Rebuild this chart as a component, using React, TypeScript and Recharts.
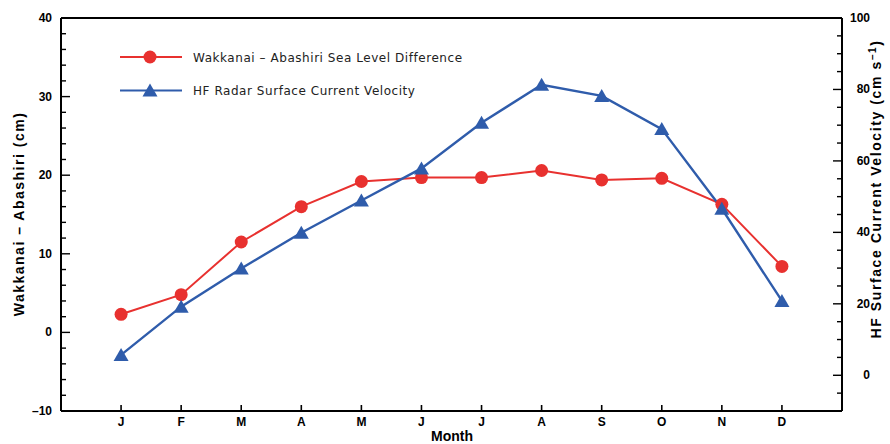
import React from 'react';
import { LineChart, Line, XAxis, YAxis, Legend, ReferenceLine } from 'recharts';

// monthly climatology
const months = [1, 2, 3, 4, 5, 6, 7, 8, 9, 10, 11, 12];
const monthLabels = ['J', 'F', 'M', 'A', 'M', 'J', 'J', 'A', 'S', 'O', 'N', 'D'];
const seaLevelDiff = [2.3, 4.8, 11.5, 16.0, 19.2, 19.7, 19.7, 20.6, 19.4, 19.6, 16.3, 8.4];
const hfVelocity = [5.7, 19.2, 29.9, 39.9, 48.9, 57.9, 70.7, 81.3, 78.2, 68.9, 46.6, 20.8];

const leftTicks = [-10, -8, -6, -4, -2, 0, 2, 4, 6, 8, 10, 12, 14, 16, 18, 20, 22, 24, 26, 28, 30, 32, 34, 36, 38, 40];
const rightTicks = [-10, -5, 0, 5, 10, 15, 20, 25, 30, 35, 40, 45, 50, 55, 60, 65, 70, 75, 80, 85, 90, 95, 100];

const legendOrder = ['sea', 'hf'];

const RED = '#e8312f';
const BLUE = '#2f5cab';
const FONT = '"Liberation Sans", Arial, sans-serif';
const LEGEND_FONT = '"DejaVu Sans", sans-serif';

const data = months.map((m, i) => ({ month: m, sea: seaLevelDiff[i], hf: hfVelocity[i] }));

const fmt = (v: number) => (v < 0 ? `–${Math.abs(v)}` : `${v}`);

const BottomTick = (props: any) => {
  const { x, y, payload } = props;
  return (
    <g>
      <line x1={x} y1={y} x2={x} y2={y - 6} stroke="#000" strokeWidth={1.6} />
      <text x={x} y={y + 15} textAnchor="middle" fontFamily={FONT} fontWeight="bold" fontSize={12} fill="#000">
        {monthLabels[payload.value - 1]}
      </text>
    </g>
  );
};

const LeftTick = (props: any) => {
  const { x, y, payload } = props;
  const major = payload.value % 10 === 0;
  return (
    <g>
      <line x1={x} y1={y} x2={x + (major ? 9 : 5)} y2={y} stroke="#000" strokeWidth={1.4} />
      {major && (
        <text x={x - 9} y={y + 4} textAnchor="end" fontFamily={FONT} fontWeight="bold" fontSize={12} fill="#000">
          {fmt(payload.value)}
        </text>
      )}
    </g>
  );
};

const RightTick = (props: any) => {
  const { x, y, payload } = props;
  const major = payload.value >= 0 && payload.value % 20 === 0;
  return (
    <g>
      <line x1={x} y1={y} x2={x - (major ? 9 : 5)} y2={y} stroke="#000" strokeWidth={1.4} />
      {major && (
        <text x={x + 28} y={y + 4} textAnchor="end" fontFamily={FONT} fontWeight="bold" fontSize={12} fill="#000">
          {payload.value}
        </text>
      )}
    </g>
  );
};

const CircleDot = (props: any) => {
  const { cx, cy, index } = props;
  return <circle key={`c${index}`} cx={cx} cy={cy} r={6.5} fill={RED} stroke="none" />;
};

const TriangleDot = (props: any) => {
  const { cx, cy, index } = props;
  return (
    <path
      key={`t${index}`}
      d={`M${cx},${cy - 7} L${cx + 7.5},${cy + 6} L${cx - 7.5},${cy + 6} Z`}
      fill={BLUE}
      stroke="none"
    />
  );
};

const renderLegend = (props: any) => {
  const items = [...(props.payload || [])].sort(
    (a: any, b: any) => legendOrder.indexOf(a.dataKey) - legendOrder.indexOf(b.dataKey)
  );
  return (
    <svg width={380} height={48}>
      {items.map((it: any, i: number) => {
        const y = 7 + i * 33.5;
        const isSea = it.dataKey === 'sea';
        return (
          <g key={it.value}>
            <line x1={0} y1={y} x2={62} y2={y} stroke={it.color} strokeWidth={2} />
            {isSea ? (
              <circle cx={30} cy={y} r={6.5} fill={it.color} />
            ) : (
              <path d={`M30,${y - 7} L37.5,${y + 6} L22.5,${y + 6} Z`} fill={it.color} />
            )}
            <text x={73} y={y + 4.5} fontFamily={LEGEND_FONT} fontSize={12} letterSpacing={0.55} fill="#222">
              {it.value}
            </text>
          </g>
        );
      })}
    </svg>
  );
};

export default function App() {
  return (
    <div style={{ position: 'absolute', left: 0, top: 0, width: 890, height: 444, background: '#fff' }}>
      <LineChart width={890} height={444} data={data} margin={{ top: 18, right: 0, bottom: 0, left: 0 }}>
        <XAxis
          dataKey="month"
          type="number"
          domain={[0, 13]}
          ticks={months}
          interval={0}
          height={33}
          tickSize={0}
          tickMargin={0}
          tickLine={false}
          axisLine={{ stroke: '#000', strokeWidth: 2 }}
          tick={<BottomTick />}
          label={{
            content: () => (
              <text x={452} y={441} textAnchor="middle" fontFamily={FONT} fontWeight="bold" fontSize={14} fill="#000">
                Month
              </text>
            ),
          }}
        />
        <YAxis
          yAxisId="left"
          orientation="left"
          type="number"
          domain={[-10, 40]}
          ticks={leftTicks}
          interval={0}
          width={61}
          tickSize={0}
          tickMargin={0}
          tickLine={false}
          axisLine={{ stroke: '#000', strokeWidth: 2 }}
          tick={<LeftTick />}
          label={{
            content: () => (
              <text
                transform="translate(24,214) rotate(-90)"
                textAnchor="middle"
                fontFamily={FONT}
                fontWeight="bold"
                fontSize={14}
                letterSpacing={1.5}
                fill="#000"
              >
                Wakkanai – Abashiri (cm)
              </text>
            ),
          }}
        />
        <YAxis
          yAxisId="right"
          orientation="right"
          type="number"
          domain={[-10, 100]}
          ticks={rightTicks}
          interval={0}
          width={48}
          tickSize={0}
          tickMargin={0}
          tickLine={false}
          axisLine={{ stroke: '#000', strokeWidth: 2 }}
          tick={<RightTick />}
          label={{
            content: () => (
              <text
                transform="translate(881,189) rotate(-90)"
                textAnchor="middle"
                fontFamily={FONT}
                fontWeight="bold"
                fontSize={14}
                letterSpacing={1.6}
                fill="#000"
              >
                HF Surface Current Velocity (cm s
                <tspan dy={-5} fontSize={10}>–1</tspan>
                <tspan dy={5}>)</tspan>
              </text>
            ),
          }}
        />
        <ReferenceLine yAxisId="left" y={40} stroke="#000" strokeWidth={2} />
        <Legend
          layout="vertical"
          align="center"
          verticalAlign="middle"
          content={renderLegend}
          wrapperStyle={{ left: 120, top: 50, width: 380, height: 48 }}
        />
        <Line
          yAxisId="left"
          type="linear"
          dataKey="sea"
          name="Wakkanai – Abashiri Sea Level Difference"
          stroke={RED}
          strokeWidth={2}
          dot={CircleDot}
          activeDot={false}
          isAnimationActive={false}
        />
        <Line
          yAxisId="right"
          type="linear"
          dataKey="hf"
          name="HF Radar Surface Current Velocity"
          stroke={BLUE}
          strokeWidth={2.4}
          dot={TriangleDot}
          activeDot={false}
          isAnimationActive={false}
        />
      </LineChart>
    </div>
  );
}
